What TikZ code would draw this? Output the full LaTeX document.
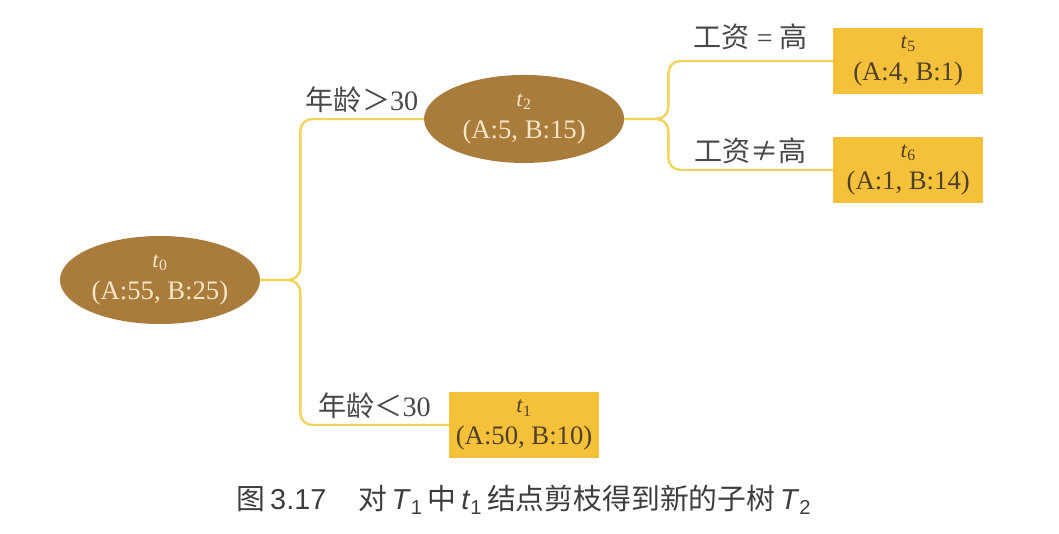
\documentclass[tikz,border=0pt]{standalone}
\usepackage{fontspec}
\setmainfont{Liberation Serif}
\newfontfamily\cjk{Noto Sans CJK SC}
\newfontfamily\capsans{Liberation Sans}
\usetikzlibrary{shapes.geometric}

\definecolor{nodebrown}{RGB}{170,124,60}
\definecolor{leafyellow}{RGB}{246,193,58}
\definecolor{branchyellow}{RGB}{240,212,92}
\definecolor{lighttext}{RGB}{244,230,200}
\definecolor{darktext}{RGB}{78,64,40}
\definecolor{labelgray}{RGB}{72,72,72}

\begin{document}
\begin{tikzpicture}[x=0.025cm,y=-0.025cm,node distance=9.1cm,
  inner node/.style={ellipse,fill=nodebrown,text=lighttext,inner sep=0pt,
    minimum width=5cm,minimum height=2.2cm,align=center,font=\fontsize{19}{23}\selectfont},
  leaf node/.style={rectangle,fill=leafyellow,text=darktext,
    minimum width=3.75cm,minimum height=1.65cm,align=center,font=\fontsize{19}{23}\selectfont},
  cond label/.style={text=labelgray,font=\fontsize{20}{22}\selectfont},
  branch/.style={draw=branchyellow,line width=1.7pt,rounded corners=0.3cm}]

 \useasboundingbox (0,0) rectangle (1059,533);

 \node[inner node] (t0) at (160,280) {{\fontsize{16}{16}\selectfont\textit{t}\textsubscript{0}}\\(A:55, B:25)};
 \node[inner node] (t2) [right of=t0, yshift=4.025cm] {{\fontsize{16}{16}\selectfont\textit{t}\textsubscript{2}}\\(A:5, B:15)};
 \node[leaf node] (t1) [right of=t0, yshift=-3.625cm] {{\fontsize{16}{16}\selectfont\textit{t}\textsubscript{1}}\\(A:50, B:10)};
 \node[leaf node] (t5) [right of=t2, xshift=0.5cm, yshift=1.45cm] {{\fontsize{16}{16}\selectfont\textit{t}\textsubscript{5}}\\(A:4, B:1)};
 \node[leaf node] (t6) [right of=t2, xshift=0.5cm, yshift=-1.275cm] {{\fontsize{16}{16}\selectfont\textit{t}\textsubscript{6}}\\(A:1, B:14)};

 % forks of the braces
 \path (t0.east) ++(40,0) coordinate (k0);
 \path (t2.east) ++(44,0) coordinate (k2);

 \draw[branch] (t2.west) -| node[cond label,pos=0.25,above] (c1) {{\cjk 年龄＞}30} (k0) -- (t0.east);
 \draw[branch] (t1.west) -| node[cond label,pos=0.25,above] (c2) {{\cjk 年龄＜}30} (k0) -- (t0.east);
 \draw[branch] (t5.west) -| node[cond label,pos=0.25,above,yshift=4pt] (c3) {{\cjk 工资} = {\cjk 高}} (k2) -- (t2.east);
 \draw[branch] (t6.west) -| node[cond label,pos=0.25,above] (c4) {{\cjk 工资≠高}} (k2) -- (t2.east);

 \node[text=labelgray!85!black,font=\capsans\fontsize{20.5}{22}\selectfont] (caption) at (524,500)
   {{\cjk 图}\,3.17\hspace{1.1em}{\cjk 对}\,\textit{T}\textsubscript{1}\,{\cjk 中}\,\textit{t}\textsubscript{1}\,{\cjk 结点剪枝得到新的子树}\,\textit{T}\textsubscript{2}};

\end{tikzpicture}
\end{document}
